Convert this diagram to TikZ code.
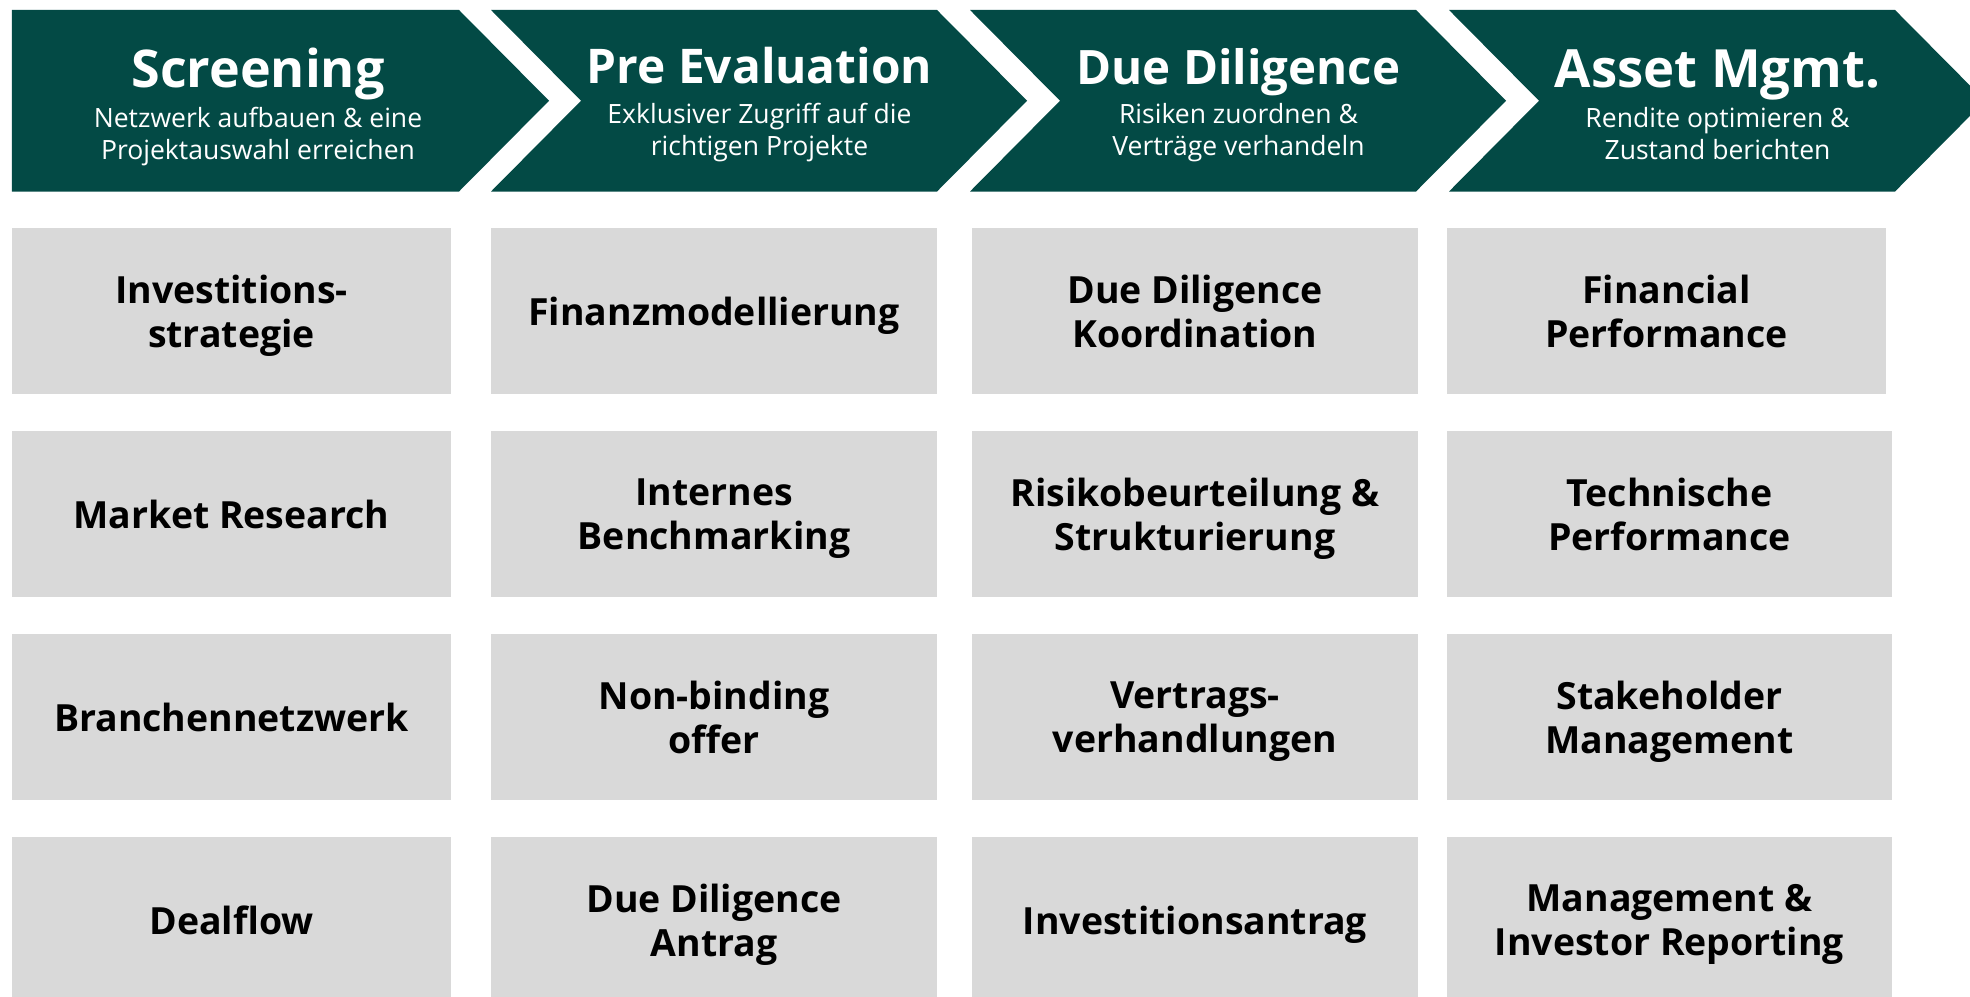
\documentclass[tikz,border=0pt]{standalone}
\usepackage{fontspec}
\setmainfont{Open Sans}
\usepackage{tikz}
\usetikzlibrary{positioning}
\definecolor{phasegreen}{HTML}{034A45}
\definecolor{cellgrey}{HTML}{D9D9D9}

\begin{document}
\begin{tikzpicture}[
    phase/.style={fill=phasegreen},
    phasetitle/.style={anchor=base, text=white, inner sep=0pt, font=\fontsize{#1}{17}\selectfont\bfseries},
    phasetitle/.default=14.8,
    phasesub/.style={anchor=base, text=white, inner sep=0pt, align=center, font=\fontsize{7.55}{9.2}\selectfont},
    cell/.style={rectangle, fill=cellgrey, minimum width=#1, minimum height=1.66cm, inner sep=0pt, text depth=0pt, align=center, font=\fontsize{10.65}{12.6}\selectfont\bfseries}
]
\useasboundingbox (0,0) rectangle (19.70,-9.96);
\clip (0,0) rectangle (19.70,-9.96);

% Phases
\fill[phase] (0.12,-0.10) -- ++(4.47,0) -- ++(0.90,-0.9075) -- ++(-0.90,-0.9075) -- ++(-4.47,0) -- cycle;
\fill[phase] (4.91,-0.10) -- ++(4.46,0) -- ++(0.90,-0.9075) -- ++(-0.90,-0.9075) -- ++(-4.46,0) -- ++(0.90,0.9075) -- cycle;
\fill[phase] (9.70,-0.10) -- ++(4.46,0) -- ++(0.90,-0.9075) -- ++(-0.90,-0.9075) -- ++(-4.46,0) -- ++(0.90,0.9075) -- cycle;
\fill[phase] (14.49,-0.10) -- ++(4.46,0) -- ++(0.90,-0.9075) -- ++(-0.90,-0.9075) -- ++(-4.46,0) -- ++(0.90,0.9075) -- cycle;

\node[phasetitle] (screening) at (2.58,-0.88) {Screening};
\node[phasetitle=13.6] (preeval) at (7.595,-0.84) {Pre Evaluation};
\node[phasetitle=13.5] (duedil) at (12.385,-0.843) {Due Diligence};
\node[phasetitle=15] (assetmgmt) at (17.175,-0.873) {Asset Mgmt.};

% subtitles (anchored on last line)
\node[phasesub] (screeningtxt) at (2.58,-1.596) {Netzwerk aufbauen \& eine\\Projektauswahl erreichen};
\node[phasesub] (preevaltxt) at (7.595,-1.558) {Exklusiver Zugriff auf die\\richtigen Projekte};
\node[phasesub] (duediltxt) at (12.385,-1.558) {Risiken zuordnen \&\\Verträge verhandeln};
\node[phasesub] (assetmgmttxt) at (17.175,-1.596) {Rendite optimieren \&\\Zustand berichten};

% Tasks per phase
\node[cell=4.39cm] (strategy) at (2.315,-3.11) {Investitions-\\strategie};
\node[cell=4.39cm] (research) at (2.315,-5.14) {Market Research};
\node[cell=4.39cm] (network) at (2.315,-7.17) {Branchennetzwerk};
\node[cell=4.39cm] (dealflow) at (2.315,-9.20) {Dealflow};

\node[cell=4.46cm] (finmodel) at (7.14,-3.11) {Finanzmodellierung};
\node[cell=4.46cm] (benchmark) at (7.14,-5.14) {Internes\\Benchmarking};
\node[cell=4.46cm] (offer) at (7.14,-7.17) {Non-binding\\offer};
\node[cell=4.46cm] (ddrequest) at (7.14,-9.20) {Due Diligence\\Antrag};

\node[cell=4.46cm] (ddcoord) at (11.95,-3.11) {Due Diligence\\Koordination};
\node[cell=4.46cm] (risk) at (11.95,-5.14) {Risikobeurteilung \&\\Strukturierung};
\node[cell=4.46cm] (contracts) at (11.95,-7.17) {Vertrags-\\verhandlungen};
\node[cell=4.46cm] (invrequest) at (11.95,-9.20) {Investitionsantrag};

\node[cell=4.39cm] (finperf) at (16.665,-3.11) {Financial\\Performance};
\node[cell=4.45cm] (techperf) at (16.695,-5.14) {Technische\\Performance};
\node[cell=4.45cm] (stakeholder) at (16.695,-7.17) {Stakeholder\\Management};
\node[cell=4.45cm] (reporting) at (16.695,-9.20) {Management \&\\Investor Reporting};

\end{tikzpicture}
\end{document}
